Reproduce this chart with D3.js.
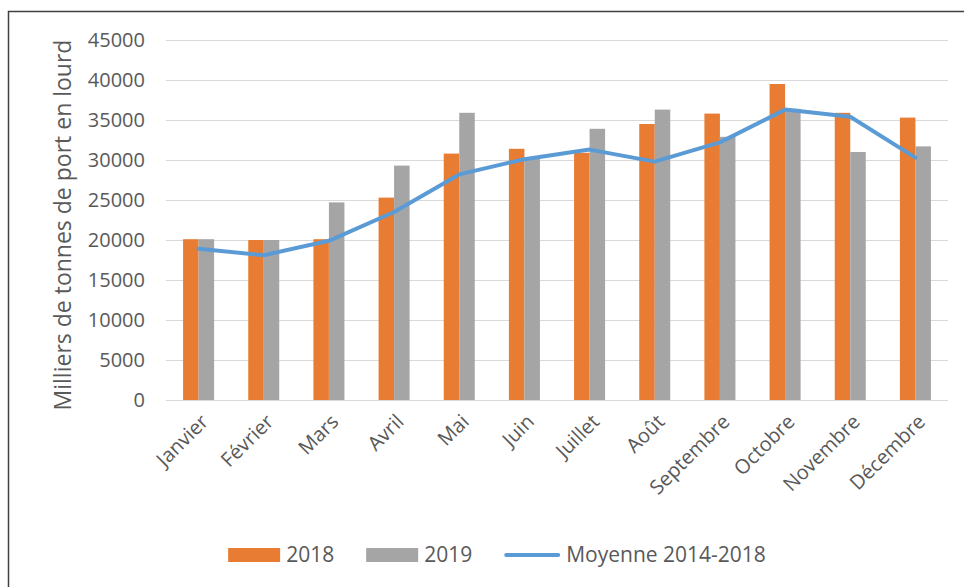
<!DOCTYPE html>
<html>
<head>
<meta charset="utf-8">
<script src="https://cdn.jsdelivr.net/npm/d3@7"></script>
<style>
    body { margin: 0; background: white; }
    text { font-family: "Open Sans", sans-serif; fill: #595959; }
</style>
</head>
<body>
<div id="chart"></div>
<script>
// values (milliers de tonnes de port en lourd)
const months = ["Janvier", "Février", "Mars", "Avril", "Mai", "Juin", "Juillet", "Août", "Septembre", "Octobre", "Novembre", "Décembre"];
const values2018 = [20100, 20000, 20100, 25300, 30800, 31400, 30900, 34500, 35800, 39500, 35900, 35300];
const values2019 = [20100, 20000, 24700, 29300, 35900, 30200, 33900, 36300, 32900, 36400, 31000, 31700];
const moyenne = [18900, 18100, 19900, 23500, 28200, 30100, 31300, 29800, 32200, 36300, 35400, 30300];
const yTicks = [0, 5000, 10000, 15000, 20000, 25000, 30000, 35000, 40000, 45000];
const barSeries = ["2018", "2019"];
const legendLabels = ["2018", "2019", "Moyenne 2014-2018"];

const colors = { "2018": "#E97C33", "2019": "#A5A5A5", line: "#5B9BD5" };

const width = 964, height = 587;
const plot = { left: 166, right: 948, top: 40, bottom: 400 };

const svg = d3.select("#chart")
    .append("svg")
    .attr("width", width)
    .attr("height", height);

// frame of the chart area (right and bottom sides are outside the picture)
svg.append("path")
    .attr("d", `M8.5,${height}V11.5H${width}`)
    .attr("fill", "none")
    .attr("stroke", "#404040")
    .attr("stroke-width", 1.5);

const x = d3.scaleBand()
    .domain(months)
    .range([plot.left, plot.right])
    .paddingInner(0.524)
    .paddingOuter(0.262);

const xSub = d3.scaleBand()
    .domain(barSeries)
    .range([0, x.bandwidth()]);

const y = d3.scaleLinear()
    .domain([0, 45000])
    .range([plot.bottom, plot.top]);

// gridlines
svg.append("g")
    .selectAll("line")
    .data(yTicks)
    .join("line")
    .attr("x1", plot.left)
    .attr("x2", plot.right)
    .attr("y1", d => Math.round(y(d)) + 0.5)
    .attr("y2", d => Math.round(y(d)) + 0.5)
    .attr("stroke", "#D9D9D9")
    .attr("stroke-width", 1);

// y tick labels
svg.append("g")
    .selectAll("text")
    .data(yTicks)
    .join("text")
    .attr("x", 145)
    .attr("y", d => y(d))
    .attr("dy", "0.35em")
    .attr("text-anchor", "end")
    .style("font-size", "20px")
    .text(d => d);

// y axis title
svg.append("text")
    .attr("transform", "translate(71,225) rotate(-90)")
    .attr("text-anchor", "middle")
    .style("font-size", "23px")
    .text("Milliers de tonnes de port en lourd");

// bars
const barData = months.map((m, i) => ({ month: m, values: [values2018[i], values2019[i]] }));
svg.append("g")
    .selectAll("g")
    .data(barData)
    .join("g")
    .attr("transform", d => `translate(${x(d.month)},0)`)
    .selectAll("rect")
    .data(d => d.values.map((v, j) => ({ key: barSeries[j], value: v })))
    .join("rect")
    .attr("x", d => xSub(d.key))
    .attr("width", xSub.bandwidth())
    .attr("y", d => y(d.value))
    .attr("height", d => y(0) - y(d.value))
    .attr("fill", d => colors[d.key]);

// average line
const line = d3.line()
    .x((d, i) => x(months[i]) + x.bandwidth() / 2)
    .y(d => y(d));

svg.append("path")
    .datum(moyenne)
    .attr("d", line)
    .attr("fill", "none")
    .attr("stroke", colors.line)
    .attr("stroke-width", 4)
    .attr("stroke-linejoin", "round")
    .attr("stroke-linecap", "round");

// month labels
svg.append("g")
    .selectAll("text")
    .data(months)
    .join("text")
    .attr("transform", d => `translate(${x(d) + x.bandwidth() / 2 + 6},${plot.bottom + 18}) rotate(-45)`)
    .attr("dy", "0.35em")
    .attr("text-anchor", "end")
    .style("font-size", "20px")
    .text(d => d);

// legend
const legend = svg.append("g").attr("transform", "translate(0,555)");
let cursor = 0;
const items = legend.selectAll("g")
    .data(legendLabels)
    .join("g");

items.each(function (d, i) {
    const g = d3.select(this);
    if (i < 2) {
        g.append("rect")
            .attr("x", 0)
            .attr("y", -7)
            .attr("width", 52)
            .attr("height", 14)
            .attr("fill", colors[barSeries[i]]);
    } else {
        g.append("line")
            .attr("x1", 2)
            .attr("x2", 54)
            .attr("y1", 0)
            .attr("y2", 0)
            .attr("stroke", colors.line)
            .attr("stroke-width", 4)
            .attr("stroke-linecap", "round");
    }
    const t = g.append("text")
        .attr("x", i < 2 ? 58 : 62)
        .attr("y", 7)
        .style("font-size", "21px")
        .text(d);
    g.attr("transform", `translate(${cursor},0)`);
    cursor += (i < 2 ? 58 : 62) + t.node().getComputedTextLength() + 32;
});
const legendWidth = cursor - 32;
legend.attr("transform", `translate(${497 - legendWidth / 2},555)`);
</script>
</body>
</html>
